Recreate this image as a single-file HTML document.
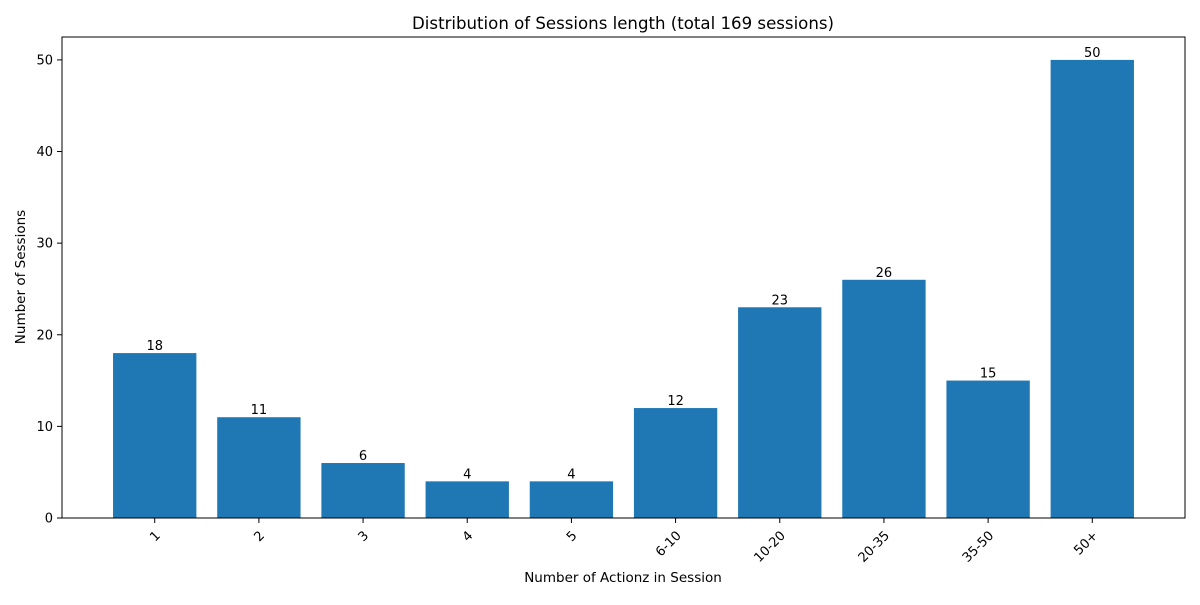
<!DOCTYPE html>
<html><head><meta charset="utf-8"><style>
body{margin:0;background:#fff;}
svg{font-family:"DejaVu Sans","Liberation Sans",sans-serif;}
</style></head><body>
<svg id="chart" width="1200" height="600" xmlns="http://www.w3.org/2000/svg">
<rect width="1200" height="600" fill="#fff"/>
<text x="623" y="29" font-size="16.6" text-anchor="middle">Distribution of Sessions length (total 169 sessions)</text>
<text x="623" y="582" font-size="13.5" text-anchor="middle">Number of Actionz in Session</text>
<text transform="translate(25,277) rotate(-90)" font-size="13.5" text-anchor="middle">Number of Sessions</text>
<g id="bars"></g><g id="axes"></g>
</svg>
<script>
const categories=["1","2","3","4","5","6-10","10-20","20-35","35-50","50+"];
const values=[18,11,6,4,4,12,23,26,15,50];
const yTicks=[0,10,20,30,40,50];
const L=62,R=1185,T=37,B=518;
const n=categories.length;
const xmin=-0.89,xmax=n-1+0.89;
const ymax=Math.max(...values)*1.05;
const xs=v=>L+(v-xmin)/(xmax-xmin)*(R-L);
const ys=v=>B-v/ymax*(B-T);
const NS="http://www.w3.org/2000/svg";
const bars=document.getElementById('bars'),axes=document.getElementById('axes');
function mk(tag,attrs,parent){const e=document.createElementNS(NS,tag);for(const k in attrs)e.setAttribute(k,attrs[k]);parent.appendChild(e);return e;}
values.forEach((v,i)=>{
 const x0=xs(i-0.4),x1=xs(i+0.4);
 const r=mk('rect',{x:x0,y:ys(v),width:x1-x0,height:B-ys(v),fill:'#1f77b4'},bars);
 
 
 const t=mk('text',{x:xs(i),y:ys(v)-3,'font-size':13,'text-anchor':'middle'},bars);
 t.textContent=v;
 
 
 mk('line',{x1:xs(i),x2:xs(i),y1:B,y2:B+5,stroke:'#000'},axes);
 const tl=mk('text',{transform:`translate(${xs(i)},${B+12}) rotate(-45)`,'font-size':13,'text-anchor':'end','dominant-baseline':'hanging'},axes);
 tl.textContent=categories[i];
 
 
});
yTicks.forEach(v=>{
 mk('line',{x1:L-5,x2:L,y1:ys(v),y2:ys(v),stroke:'#000'},axes);
 const t=mk('text',{x:L-9,y:ys(v)+4.5,'font-size':13,'text-anchor':'end'},axes);
 t.textContent=v;
 
 
});
const f=mk('rect',{x:L,y:T,width:R-L,height:B-T,fill:'none',stroke:'#000','stroke-width':1},axes);


</script>
</body></html>
